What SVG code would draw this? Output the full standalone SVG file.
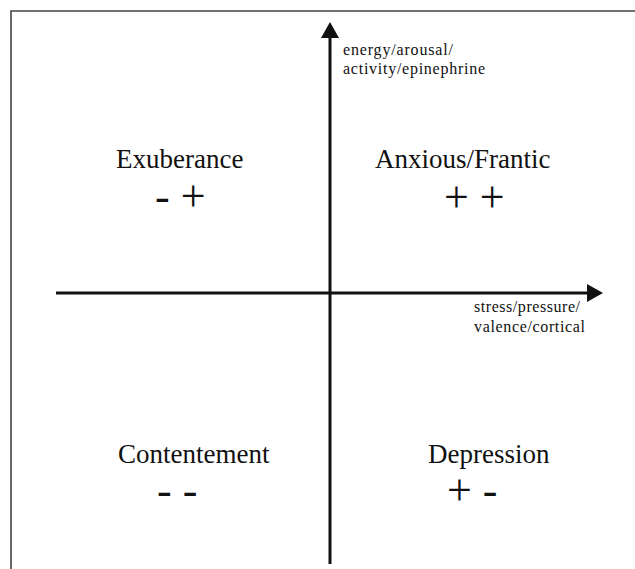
<svg xmlns="http://www.w3.org/2000/svg" width="635" height="569" viewBox="0 0 635 569">
<style>
.q{font-family:"Liberation Serif","Times New Roman",serif;font-size:27px;fill:#111}
.s{font-family:"Liberation Serif","Times New Roman",serif;font-size:44px;fill:#111}
.a{font-family:"Liberation Serif","Times New Roman",serif;font-size:16px;fill:#111}
.ax{stroke:#111;stroke-width:3;fill:none}
</style>
<defs>
<marker id="ah" markerWidth="16" markerHeight="18" refX="3" refY="9" orient="auto" markerUnits="userSpaceOnUse">
<path d="M0,0 L16,9 L0,18 Z" fill="#111"/>
</marker>
</defs>
<rect width="635" height="569" fill="#fff"/>
<g id="frame">
<path d="M11,569 L11,11 L635,11" stroke="#444" stroke-width="1.6" fill="none"/>
</g>
<g id="connectors">
<line class="ax" x1="330" y1="564" x2="330" y2="35" marker-end="url(#ah)"/>
<line class="ax" x1="56" y1="293" x2="590" y2="293" marker-end="url(#ah)"/>
</g>
<g id="axis-y-label">
<text class="a" x="343" y="55" textLength="110" lengthAdjust="spacing">energy/arousal/</text>
<text class="a" x="343" y="74" textLength="142" lengthAdjust="spacing">activity/epinephrine</text>
</g>
<g id="axis-x-label">
<text class="a" x="474" y="312" textLength="106" lengthAdjust="spacing">stress/pressure/</text>
<text class="a" x="474" y="332" textLength="111" lengthAdjust="spacing">valence/cortical</text>
</g>
<g id="exuberance">
<text class="q" x="116" y="168">Exuberance</text>
<text class="s" x="155" y="211">- +</text>
</g>
<g id="anxious">
<text class="q" x="375" y="168">Anxious/Frantic</text>
<text class="s" x="444" y="212">+ +</text>
</g>
<g id="contentement">
<text class="q" x="118" y="463">Contentement</text>
<text class="s" x="157" y="505">- -</text>
</g>
<g id="depression">
<text class="q" x="428" y="463">Depression</text>
<text class="s" x="447" y="505">+ -</text>
</g>
</svg>
